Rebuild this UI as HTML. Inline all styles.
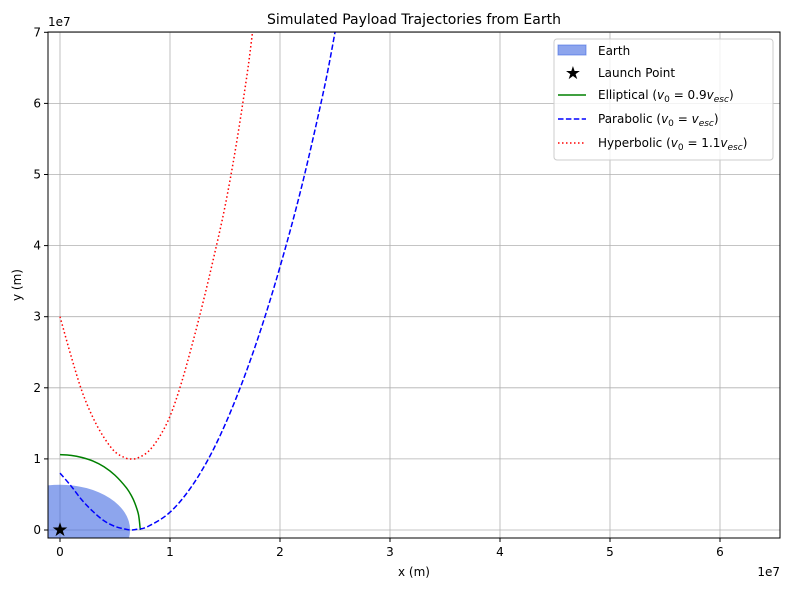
<!DOCTYPE html>
<html><head><meta charset="utf-8"><style>
body{margin:0;background:#fff;font-family:"Liberation Sans","DejaVu Sans",sans-serif;}
svg text{font-family:"DejaVu Sans","Liberation Sans",sans-serif;}
</style></head><body>
<svg id="chart" width="790" height="590" viewBox="0 0 790 590">
<rect width="790" height="590" fill="#fff"/>
<defs><clipPath id="pc"><rect x="48" y="32" width="732" height="506"/></clipPath></defs>
<g id="grid"></g>
<g id="plot" clip-path="url(#pc)"></g>
<rect x="48" y="32" width="732" height="506" fill="none" stroke="#000" stroke-width="1"/>
<g id="ticks"></g>
<text x="414" y="24" text-anchor="middle" font-size="14">Simulated Payload Trajectories from Earth</text>
<text x="414" y="576" text-anchor="middle" font-size="12">x (m)</text>
<text x="21" y="285" text-anchor="middle" font-size="12" transform="rotate(-90 21 285)">y (m)</text>
<text x="48" y="26" font-size="12">1e7</text>
<text x="780" y="576" text-anchor="end" font-size="12">1e7</text>
<g>
<rect x="554" y="39" width="219" height="121" rx="3" fill="#fff" fill-opacity="0.8" stroke="#ccc"/>
<rect x="558" y="45" width="28" height="10" fill="#4169e1" fill-opacity="0.6" stroke="#4169e1" stroke-opacity="0.6"/>
<text x="598" y="55" font-size="12">Earth</text>
<text x="573" y="79" font-size="18" text-anchor="middle">★</text>
<text x="598" y="77" font-size="12">Launch Point</text>
<line x1="558" y1="95" x2="586" y2="95" stroke="green" stroke-width="1.5"/>
<text x="598" y="99" font-size="12">Elliptical (<tspan font-style="italic">v</tspan><tspan font-size="9" dy="3">0</tspan><tspan dy="-3"> = 0.9</tspan><tspan font-style="italic">v</tspan><tspan font-size="9" dy="3" font-style="italic">esc</tspan><tspan dy="-3">)</tspan></text>
<line x1="558" y1="119" x2="586" y2="119" stroke="blue" stroke-width="1.5" stroke-dasharray="5.5,2.4"/>
<text x="598" y="123" font-size="12">Parabolic (<tspan font-style="italic">v</tspan><tspan font-size="9" dy="3">0</tspan><tspan dy="-3"> = </tspan><tspan font-style="italic">v</tspan><tspan font-size="9" dy="3" font-style="italic">esc</tspan><tspan dy="-3">)</tspan></text>
<line x1="558" y1="143" x2="586" y2="143" stroke="red" stroke-width="1.5" stroke-dasharray="1.5,2.5"/>
<text x="598" y="147" font-size="12">Hyperbolic (<tspan font-style="italic">v</tspan><tspan font-size="9" dy="3">0</tspan><tspan dy="-3"> = 1.1</tspan><tspan font-style="italic">v</tspan><tspan font-size="9" dy="3" font-style="italic">esc</tspan><tspan dy="-3">)</tspan></text>
</g>
</svg>
<script>
const xTicks=[0,1,2,3,4,5,6];
const yTicks=[0,1,2,3,4,5,6,7];
const earthRadius=0.6371;
const ellX=[0,0.1,0.2,0.3,0.4,0.5,0.6,0.65,0.68,0.71,0.72,0.73];
const ellY=[1.06,1.05,1.02,0.97,0.89,0.77,0.6,0.48,0.38,0.24,0.15,0];
const parX=[0,0.1,0.2,0.3,0.4,0.5,0.6,0.65,0.7,0.8,1.0,1.2,1.4,1.6,1.8,2.0,2.2,2.4,2.5];
const parY=[0.8,0.62,0.42,0.26,0.13,0.05,0.01,0,0.01,0.05,0.25,0.62,1.15,1.85,2.7,3.7,4.85,6.2,7.0];
const hypX=[0,0.1,0.2,0.3,0.4,0.5,0.6,0.65,0.7,0.8,0.9,1.0,1.1,1.2,1.3,1.4,1.5,1.6,1.7,1.75];
const hypY=[3.0,2.45,1.95,1.58,1.3,1.1,1.01,1.0,1.01,1.1,1.3,1.6,2.05,2.6,3.2,3.85,4.55,5.4,6.4,7.0];
const X=v=>60+v*110, Y=v=>530-v*71.1;
const NS='http://www.w3.org/2000/svg';
function mk(t,a,p){const e=document.createElementNS(NS,t);for(const k in a)e.setAttribute(k,a[k]);p.appendChild(e);return e;}
const grid=document.getElementById('grid'),ticks=document.getElementById('ticks'),plot=document.getElementById('plot');
xTicks.forEach(v=>{
 const g=mk('line',{x1:X(v),x2:X(v),y1:32,y2:538,stroke:'#b0b0b0','stroke-width':0.8},grid);
 
 
 const t=mk('line',{x1:X(v),x2:X(v),y1:538,y2:542,stroke:'#000'},ticks);
 
 
 const l=mk('text',{x:X(v),y:556,'text-anchor':'middle','font-size':12},ticks);l.textContent=v;
 
 
});
yTicks.forEach(v=>{
 const g=mk('line',{x1:48,x2:780,y1:Y(v),y2:Y(v),stroke:'#b0b0b0','stroke-width':0.8},grid);
 
 
 const t=mk('line',{x1:44,x2:48,y1:Y(v),y2:Y(v),stroke:'#000'},ticks);
 
 
 const l=mk('text',{x:41,y:Y(v)+4,'text-anchor':'end','font-size':12},ticks);l.textContent=v;
 
 
});
const earth=mk('ellipse',{cx:X(0),cy:Y(0),rx:X(earthRadius)-X(0),ry:Y(0)-Y(earthRadius),fill:'#4169e1','fill-opacity':0.6},plot);


function smooth(xs,ys){
 const P=xs.map((x,i)=>[X(x),Y(ys[i])]);
 let d='M'+P[0][0]+','+P[0][1];
 for(let i=0;i<P.length-1;i++){
  const p0=P[i-1]||P[i],p1=P[i],p2=P[i+1],p3=P[i+2]||p2;
  const c1=[p1[0]+(p2[0]-p0[0])/6,p1[1]+(p2[1]-p0[1])/6];
  const c2=[p2[0]-(p3[0]-p1[0])/6,p2[1]-(p3[1]-p1[1])/6];
  d+=' C'+c1[0]+','+c1[1]+' '+c2[0]+','+c2[1]+' '+p2[0]+','+p2[1];
 }
 return d;
}
function line(xs,ys,col,dash,name){
 const p=mk('path',{d:smooth(xs,ys),fill:'none',stroke:col,'stroke-width':1.5,'stroke-dasharray':dash},plot);
 
 
}
line(ellX,ellY,'green','none','elliptical-trajectory');
line(parX,parY,'blue','5.5,2.4','parabolic-trajectory');
line(hypX,hypY,'red','1.5,2.5','hyperbolic-trajectory');
const s=mk('text',{x:X(0),y:Y(0)+6,'text-anchor':'middle','font-size':19},plot);s.textContent='★';


</script>
</body></html>
